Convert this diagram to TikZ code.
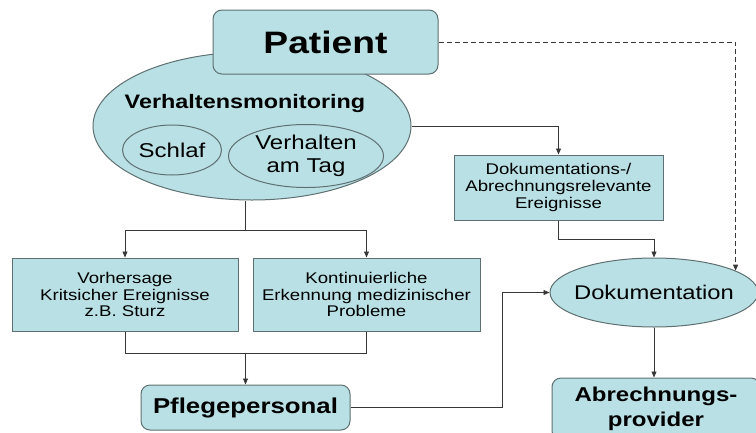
\documentclass[tikz,border=0pt]{standalone}
\usepackage{fontspec}
\setmainfont{Liberation Sans}[FakeStretch=1.2]
\usetikzlibrary{shapes.geometric,arrows.meta}
\definecolor{fillc}{RGB}{185,224,228}
\definecolor{edgec}{RGB}{95,112,114}
\definecolor{linec}{RGB}{55,55,55}
\begin{document}
\begin{tikzpicture}[x=1pt,y=-1pt,
  boxsq/.style={draw=edgec,fill=fillc,line width=1pt,inner sep=0pt,align=center,rectangle},
  boxrd/.style={boxsq,rounded corners=9pt},
  ell/.style={draw=edgec,fill=fillc,line width=1pt,inner sep=0pt,ellipse},
  conn/.style={draw=linec,line width=0.9pt},
  arr/.style={-{Triangle[length=6pt,width=5pt]}},
  smalltxt/.style={font=\fontsize{15.5}{16.8}\selectfont},
  bigtxt/.style={font=\fontsize{20}{23}\selectfont}]
\useasboundingbox (0,0) rectangle (756,432);
% Monitoring ellipse
\node[ell, minimum width=318, minimum height=148] (mon) at (252,126) {};
\node[font=\bfseries\fontsize{19.5}{22}\selectfont] (montext) at (245,103) {Verhaltensmonitoring};
\node[ell, minimum width=99, minimum height=50] (schlaf) at (172,150) {};
\node[bigtxt] (schlaftext) at (schlaf) {Schlaf};
\node[ell, minimum width=155, minimum height=63] (tag) at (306,156) {};
\node[bigtxt, align=center] (tagtext) at (tag) {Verhalten\\am Tag};
% Patient
\node[boxrd, minimum width=225, minimum height=64, font=\bfseries\fontsize{31}{34}\selectfont] (patient) at (325.5,42) {Patient};
% boxes
\node[boxsq, smalltxt, minimum width=226, minimum height=73] (vor) at (125,294.5) {Vorhersage\\Kritsicher Ereignisse\\z.B. Sturz};
\node[boxsq, smalltxt, minimum width=227, minimum height=73] (kon) at (366.5,294.5) {Kontinuierliche\\Erkennung medizinischer\\Probleme};
\node[boxrd, minimum width=209, minimum height=45, font=\bfseries\fontsize{21.5}{24}\selectfont] (pfl) at (245.5,407.5) {Pflegepersonal};
\node[boxsq, smalltxt, minimum width=209, minimum height=65] (dokr) at (558.5,187.5) {Dokumentations-/\\Abrechnungsrelevante\\Ereignisse};
\node[ell, minimum width=208, minimum height=69] (dok) at (654,292.5) {};
\node[font=\fontsize{19.8}{23}\selectfont] (doktext) at (dok) {Dokumentation};
\node[boxrd, minimum width=208, minimum height=62, font=\bfseries\fontsize{20}{25}\selectfont] (abr) at (656,409) {Abrechnungs-\\provider};
% junctions
\coordinate (j1) at (245,230);
\coordinate (j2) at (245.5,353);
\coordinate (c3) at (502,292.5);
\coordinate (c4) at (654,239);
% connectors
\draw[conn] (j1) -- (j1 |- mon.south);
\draw[conn,arr] (j1) -| (vor.north);
\draw[conn,arr] (j1) -| (kon.north);
\draw[conn] (vor.south) |- (j2);
\draw[conn] (kon.south) |- (j2);
\draw[conn,arr] (j2) -- (pfl.north);
\draw[conn,arr] (pfl.east) -| (c3) -- (dok.west);
\draw[conn,arr] (mon.east) -| (dokr.north);
\draw[conn,arr] (dokr.south) |- (c4) -- (dok.north);
\draw[conn,arr] (dok.south) -- (dok.south |- abr.north);
\draw[conn,arr,dash pattern=on 5pt off 3pt] (patient.east) -| (dok.15);
\end{tikzpicture}
\end{document}
